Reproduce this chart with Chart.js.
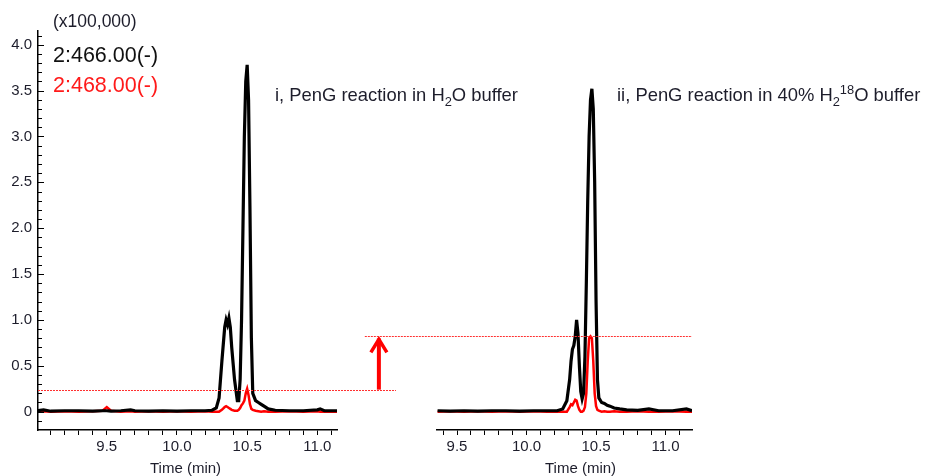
<!DOCTYPE html>
<html lang="en">
<head>
<meta charset="UTF-8" />
<title>PenG reaction chromatograms</title>
<style>
  * { margin: 0; padding: 0; box-sizing: border-box; }
  body {
    width: 927px; height: 476px; position: relative; overflow: hidden;
    background: #fff; font-family: "Liberation Sans", Arial, sans-serif; color: #1d1d2b;
  }
  .box { position: absolute; top: 0; height: 476px; }
  #leftBox { left: 0; width: 400px; }
  #rightBox { left: 350px; width: 577px; }
  .lbl { position: absolute; white-space: nowrap; line-height: 1; }
  .lbl sub, .lbl sup { font-size: 70%; line-height: 0; }
</style>
</head>
<body>
  <div class="box" id="leftBox"><canvas id="leftChart"></canvas></div>
  <div class="box" id="rightBox"><canvas id="rightChart"></canvas></div>

  <div class="lbl" style="left:53px; top:13px; font-size:17.5px;">(x100,000)</div>
  <div class="lbl" style="left:53px; top:45px; font-size:21.5px; color:#111;">2:466.00(-)</div>
  <div class="lbl" style="left:53px; top:75px; font-size:21.5px; color:#ff1a1a;">2:468.00(-)</div>
  <div class="lbl" style="left:275px; top:86px; font-size:18.4px;">i, PenG reaction in H<sub>2</sub>O buffer</div>
  <div class="lbl" style="left:617px; top:86px; font-size:18.4px;">ii, PenG reaction in 40% H<sub>2</sub><sup>18</sup>O buffer</div>
  <div class="lbl" style="left:150px; top:460px; font-size:15px;">Time (min)</div>
  <div class="lbl" style="left:545px; top:460px; font-size:15px;">Time (min)</div>

  <script src="https://cdn.jsdelivr.net/npm/chart.js"></script>
  <script>
    // panel i : H2O buffer
    const timeLeft = [9.0, 9.05, 9.1, 9.2, 9.3, 9.4, 9.47, 9.5, 9.53, 9.6, 9.67, 9.7, 9.8, 9.9, 10.0, 10.1, 10.2,
      10.25, 10.28, 10.30, 10.32, 10.34, 10.35, 10.36, 10.37, 10.38, 10.39, 10.41, 10.43, 10.44, 10.45, 10.46,
      10.47, 10.48, 10.49, 10.50, 10.51, 10.52, 10.53, 10.54, 10.56, 10.58, 10.60, 10.62, 10.65, 10.70, 10.8,
      10.9, 11.0, 11.02, 11.05, 11.14];
    const black466Left = [0.01, 0.02, 0.005, 0.01, 0.01, 0.005, 0.01, 0.01, 0.005, 0.01, 0.02, 0.01, 0.005, 0.01, 0.005, 0.01, 0.01,
      0.015, 0.04, 0.15, 0.55, 0.92, 1.0, 0.95, 1.02, 0.92, 0.7, 0.35, 0.12, 0.12, 0.35, 1.0,
      2.0, 3.0, 3.6, 3.78, 3.4, 2.2, 0.8, 0.2, 0.12, 0.1, 0.08, 0.06, 0.03, 0.015, 0.01,
      0.01, 0.02, 0.03, 0.01, 0.01];
    const red468Left = [0.0, 0.005, 0.0, 0.005, 0.0, 0.005, 0.01, 0.05, 0.01, 0.0, 0.005, 0.0, 0.005, 0.0, 0.005, 0.0, 0.005,
      0.0, 0.0, 0.0, 0.02, 0.05, 0.06, 0.05, 0.04, 0.03, 0.02, 0.01, 0.01, 0.02, 0.04, 0.07,
      0.09, 0.12, 0.2, 0.25, 0.18, 0.08, 0.03, 0.02, 0.01, 0.005, 0.0, 0.005, 0.0, 0.0, 0.005,
      0.0, 0.005, 0.0, 0.0, 0.0];

    // panel ii : 40% H2(18)O buffer
    const timeRight = [9.36, 9.45, 9.55, 9.65, 9.75, 9.85, 9.95, 10.05, 10.15, 10.22, 10.26, 10.29, 10.31, 10.32,
      10.33, 10.34, 10.35, 10.36, 10.37, 10.38, 10.39, 10.40, 10.41, 10.42, 10.43, 10.44, 10.45, 10.46, 10.47,
      10.48, 10.49, 10.50, 10.51, 10.52, 10.54, 10.56, 10.58, 10.60, 10.63, 10.67, 10.72, 10.8, 10.88, 10.95,
      11.05, 11.15, 11.19];
    const black466Right = [0.01, 0.005, 0.01, 0.005, 0.01, 0.01, 0.005, 0.01, 0.01, 0.01, 0.03, 0.12, 0.35, 0.55,
      0.68, 0.72, 0.82, 1.0, 0.85, 0.5, 0.22, 0.14, 0.2, 0.6, 1.4, 2.3, 3.0, 3.4, 3.52,
      3.3, 2.5, 1.2, 0.35, 0.15, 0.1, 0.09, 0.07, 0.06, 0.04, 0.03, 0.02, 0.015, 0.03, 0.01,
      0.01, 0.03, 0.01];
    const red468Right = [0.0, 0.005, 0.0, 0.005, 0.0, 0.005, 0.0, 0.005, 0.0, 0.0, 0.0, 0.0, 0.05, 0.08,
      0.07, 0.1, 0.13, 0.12, 0.06, 0.02, 0.0, 0.0, 0.01, 0.05, 0.2, 0.55, 0.8, 0.82, 0.8,
      0.55, 0.2, 0.06, 0.02, 0.01, 0.0, 0.005, 0.0, 0.0, 0.005, 0.0, 0.0, 0.005, 0.0, 0.0,
      0.005, 0.0, 0.0];

    // dotted guide levels (x100,000) and their horizontal extents in each panel's time units
    const guideLevels = [0.24, 0.82];
    const leftGuideSpan = [9.01, 11.56];
    const rightGuideSpan = [8.837, 11.19];
    const arrowTime = 8.938;

    const FONT = "'Liberation Sans', Arial, sans-serif";
    const TEXT = "#1d1d2b";
    const isHalf = (v) => Math.abs(v * 2 - Math.round(v * 2)) < 1e-6;

    const pts = (xs, ys) => xs.map((t, i) => ({ x: t, y: ys[i] }));

    const guides = {
      id: "guides",
      afterDatasetsDraw(chart, args, opts) {
        const { ctx, chartArea } = chart;
        const x = chart.scales.x, y = chart.scales.y;
        ctx.save();
        if (opts.yTicks) {
          ctx.strokeStyle = "#000";
          ctx.lineWidth = 1;
          for (let k = -1; k <= 41; k++) {
            const py = Math.round(y.getPixelForValue(k / 10)) + 0.5;
            ctx.beginPath();
            ctx.moveTo(chartArea.left, py);
            ctx.lineTo(chartArea.left + (k % 5 === 0 ? 6 : 4), py);
            ctx.stroke();
          }
        }
        ctx.strokeStyle = "#ff3030";
        ctx.lineWidth = 1;
        ctx.setLineDash([2, 1]);
        const py = Math.round(y.getPixelForValue(opts.level)) + 0.5;
        ctx.beginPath();
        ctx.moveTo(x.getPixelForValue(opts.span[0]), py);
        ctx.lineTo(x.getPixelForValue(opts.span[1]), py);
        ctx.stroke();
        ctx.setLineDash([]);
        if (opts.arrow) {
          const ax = x.getPixelForValue(opts.arrow.x);
          const y0 = y.getPixelForValue(opts.arrow.from);
          const y1 = y.getPixelForValue(opts.arrow.to);
          ctx.strokeStyle = "#ff0000";
          ctx.lineWidth = 4;
          ctx.beginPath();
          ctx.moveTo(ax, y0);
          ctx.lineTo(ax, y1 + 2);
          ctx.stroke();
          ctx.lineWidth = 3.5;
          ctx.lineJoin = "miter";
          ctx.beginPath();
          ctx.moveTo(ax - 8, y1 + 16);
          ctx.lineTo(ax, y1 + 3);
          ctx.lineTo(ax + 8, y1 + 16);
          ctx.stroke();
        }
        ctx.restore();
      },
    };

    function makeOptions(xMin, xMax, showY, padding, guideOpts) {
      return {
        responsive: true,
        maintainAspectRatio: false,
        animation: false,
        layout: { padding },
        plugins: { legend: { display: false }, tooltip: { enabled: false }, guides: guideOpts },
        elements: { point: { radius: 0 }, line: { tension: 0 } },
        scales: {
          x: {
            type: "linear",
            min: xMin,
            max: xMax,
            afterFit: (s) => { s.height = 46; },
            border: { color: "#000", width: 1.5 },
            grid: { drawOnChartArea: false, tickLength: 5, color: "#000" },
            ticks: {
              stepSize: 0.1,
              includeBounds: false,
              autoSkip: false,
              maxRotation: 0,
              padding: 3,
              color: TEXT,
              font: { size: 15, family: FONT },
              callback: (v) => (isHalf(v) ? v.toFixed(1) : ""),
            },
          },
          y: {
            display: showY,
            min: -0.2,
            max: 4.15,
            afterFit: (s) => { s.width = showY ? 38 : 0; },
            border: { color: "#000", width: 1.5 },
            grid: { drawOnChartArea: false, drawTicks: false },
            ticks: {
              stepSize: 0.5,
              includeBounds: false,
              padding: 6,
              color: TEXT,
              font: { size: 15, family: FONT },
              callback: (v) => (v === 0 ? "0" : v.toFixed(1)),
            },
          },
        },
      };
    }

    function traces(times, black, red) {
      return {
        datasets: [
          { data: pts(times, black), borderColor: "#000", borderWidth: 3.2 },
          { data: pts(times, red), borderColor: "#ff0000", borderWidth: 2.5 },
        ],
      };
    }

    new Chart(document.getElementById("leftChart"), {
      type: "line",
      data: traces(timeLeft, black466Left, red468Left),
      options: makeOptions(9.01, 11.14, true, { top: 31, right: 63, left: 0, bottom: 0 },
        { yTicks: true, level: guideLevels[0], span: leftGuideSpan }),
      plugins: [guides],
    });

    new Chart(document.getElementById("rightChart"), {
      type: "line",
      data: traces(timeRight, black466Right, red468Right),
      options: makeOptions(9.356, 11.19, false, { top: 31, right: 235, left: 87, bottom: 0 },
        { yTicks: false, level: guideLevels[1], span: rightGuideSpan,
          arrow: { x: arrowTime, from: guideLevels[0], to: guideLevels[1] } }),
      plugins: [guides],
    });
  </script>
</body>
</html>
